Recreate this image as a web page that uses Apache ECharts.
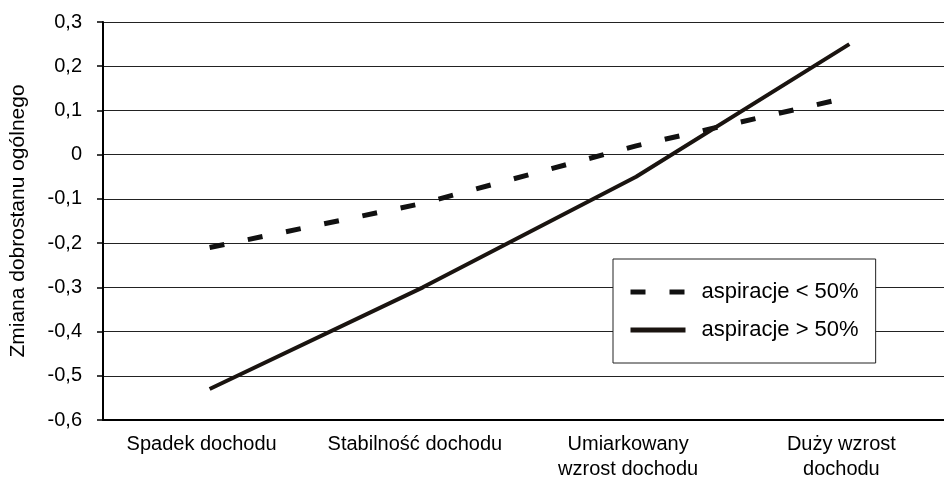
<!DOCTYPE html>
<html>
<head>
<meta charset="utf-8">
<script src="https://cdn.jsdelivr.net/npm/echarts@6/dist/echarts.min.js"></script>
<style>
  html, body { margin: 0; padding: 0; background: #fff; }
  #chart { width: 944px; height: 481px; }
</style>
</head>
<body>
<div id="chart"></div>
<script>
// kategorie na osi X
const categories = ['Spadek dochodu', 'Stabilność dochodu', 'Umiarkowany\nwzrost dochodu', 'Duży wzrost\ndochodu']
// serie
const seriesNames = ['aspiracje < 50%', 'aspiracje > 50%']
const lowAspiration = [-0.21, -0.11, 0.02, 0.13]
const highAspiration = [-0.53, -0.30, -0.05, 0.25]
// oś Y
const yMin = -0.6
const yMax = 0.3
const yStep = 0.1
const yAxisTitle = 'Zmiana dobrostanu ogólnego'

const chart = echarts.init(document.getElementById('chart'))

// 0.1 -> "0,1", 0 -> "0"
const fmt = (v) => {
  const r = Math.round(v * 10) / 10
  if (r === 0) return '0'
  return r.toFixed(1).replace('.', ',')
}

const option = {
  animation: false,
  backgroundColor: '#fff',
  textStyle: { fontFamily: "'Liberation Sans', Arial, sans-serif", color: '#000' },
  grid: { left: 103, right: -12, top: 22, bottom: 61, containLabel: false, outerBoundsMode: 'none' },
  legend: {
    orient: 'vertical',
    left: 613,
    top: 259,
    padding: [22, 17, 22, 15],
    itemWidth: 55,
    itemHeight: 16,
    itemGap: 16,
    backgroundColor: '#fff',
    borderColor: '#222',
    borderWidth: 1,
    icon: 'inherit',
    itemStyle: { opacity: 0 },
    textStyle: { fontSize: 22, lineHeight: 20, color: '#000', padding: [0, 0, 0, 11] },
    data: [
      { name: seriesNames[0], lineStyle: { width: 5, type: [15, 24] } },
      { name: seriesNames[1], lineStyle: { width: 5 } },
    ],
  },
  xAxis: {
    type: 'category',
    data: categories,
    boundaryGap: true,
    axisLine: { onZero: false, lineStyle: { color: '#000', width: 2 } },
    axisTick: { length: 8, lineStyle: { color: '#000', width: 1.5 } },
    axisLabel: {
      color: '#000',
      fontSize: 20,
      lineHeight: 25,
      margin: 12,
      interval: 0,
      padding: [0, 16, 0, 0],
    },
    splitLine: { show: false },
  },
  yAxis: {
    type: 'value',
    min: yMin,
    max: yMax,
    interval: yStep,
    name: yAxisTitle,
    nameLocation: 'middle',
    nameGap: 74,
    nameTextStyle: { fontSize: 21, color: '#000' },
    axisLine: { show: true, lineStyle: { color: '#000', width: 2 } },
    axisTick: { show: true, length: 6, lineStyle: { color: '#000', width: 1.5 } },
    axisLabel: { color: '#000', fontSize: 20, margin: 21, formatter: fmt },
    splitLine: { lineStyle: { color: '#222', width: 1.2 } },
  },
  series: [
    {
      name: seriesNames[0],
      type: 'line',
      data: lowAspiration,
      symbol: 'none',
      lineStyle: { color: '#111', width: 5, type: [15, 24] },
      itemStyle: { color: '#111' },
    },
    {
      name: seriesNames[1],
      type: 'line',
      data: highAspiration,
      symbol: 'none',
      lineStyle: { color: '#1a1410', width: 4 },
      itemStyle: { color: '#1a1410' },
    },
  ],
}

chart.setOption(option)
</script>
</body>
</html>
